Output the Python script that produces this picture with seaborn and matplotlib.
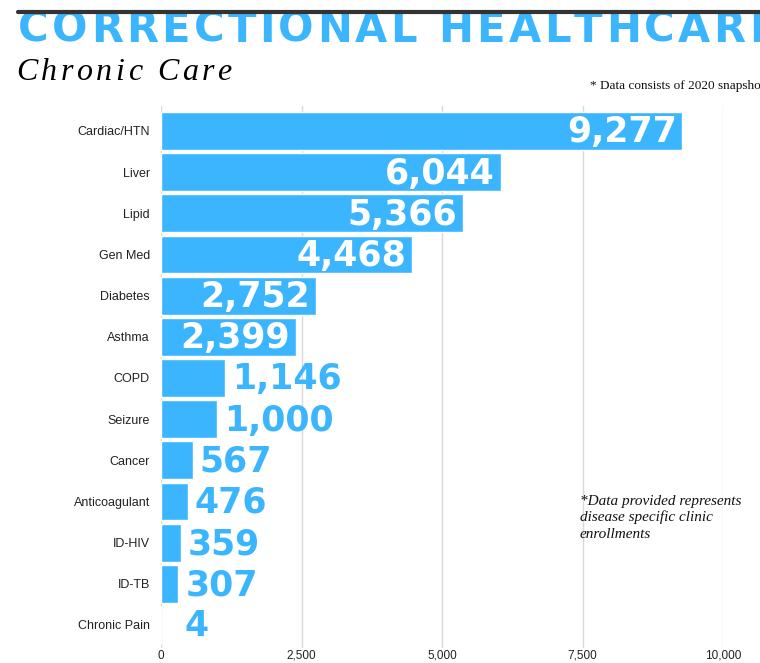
import matplotlib
matplotlib.use("Agg")
import matplotlib.pyplot as plt
import seaborn as sns
import pandas as pd
from matplotlib.lines import Line2D
from matplotlib.patches import Rectangle

categories = ["Cardiac/HTN", "Liver", "Lipid", "Gen Med", "Diabetes", "Asthma", "COPD",
              "Seizure", "Cancer", "Anticoagulant", "ID-HIV", "ID-TB", "Chronic Pain"]
values = [9277, 6044, 5366, 4468, 2752, 2399, 1146, 1000, 567, 476, 359, 307, 4]
xticks = [0, 2500, 5000, 7500, 10000]
xtick_labels = ["0", "2,500", "5,000", "7,500", "10,000"]

BLUE = "#3bb6fe"
W, H = 760, 663

sns.set_style("white")
plt.rcParams['font.family'] = ['Liberation Sans', 'DejaVu Sans']

fig = plt.figure(figsize=(W / 100, H / 100), dpi=100)
ax_l, ax_r = 161 / W, 723 / W
ax_top_px, ax_bot_px = 106.3, 647.6
ax = fig.add_axes([ax_l, 1 - ax_bot_px / H, ax_r - ax_l, (ax_bot_px - ax_top_px) / H])

df = pd.DataFrame({"category": categories, "value": values})
sns.barplot(data=df, x="value", y="category", orient="h", color=BLUE, saturation=1,
            width=0.92, ax=ax, zorder=2)

ax.set_xlim(0, 10000)
ax.set_ylim(12.55, -0.6)
ax.set_xticks(xticks)
ax.set_xticklabels(xtick_labels, fontsize=8.5, color="#222222")
ax.tick_params(axis="y", labelsize=9, colors="#222222", length=0, pad=8)
ax.tick_params(axis="x", length=0, pad=1.5)
ax.set_xlabel("")
ax.set_ylabel("")
for s in ax.spines.values():
    s.set_visible(False)
ax.xaxis.grid(True, color="#d9d9d9", lw=1, zorder=0)
ax.set_axisbelow(True)

for i, v in enumerate(values):
    label = f"{v:,}"
    if v >= 2000:
        ax.annotate(label, (v, i), xytext=(-4, -1), textcoords="offset points",
                    ha="right", va="center", color="white", fontsize=25,
                    fontweight="bold", family="DejaVu Sans", zorder=3)
    else:
        ax.annotate(label, (max(v, 300), i), xytext=(5, -1), textcoords="offset points",
                    ha="left", va="center", color=BLUE, fontsize=25,
                    fontweight="bold", family="DejaVu Sans", zorder=3)

renderer = fig.canvas.get_renderer()


def spaced_text(x_px, y_px, s, spacing_px, **kw):
    """Place text char by char with extra tracking (pixel coords from top-left)."""
    x = x_px
    for ch in s:
        t = fig.text(x / W, 1 - y_px / H, ch, va="baseline", ha="left", **kw)
        if ch == " ":
            probe = fig.text(0, 0, "a a", **kw)
            probe2 = fig.text(0, 0, "aa", **kw)
            w = probe.get_window_extent(renderer).width - probe2.get_window_extent(renderer).width
            probe.remove(); probe2.remove()
        else:
            w = t.get_window_extent(renderer).width
        x += w + spacing_px


spaced_text(18, 42, "CORRECTIONAL HEALTHCARE", 3.3, color=BLUE, fontsize=30,
            fontweight="bold", family="DejaVu Sans")
fig.add_artist(Rectangle((0, 1 - 11 / H), 1, 11 / H, transform=fig.transFigure,
                         facecolor="white", edgecolor="none", zorder=10))
fig.add_artist(Line2D([18 / W, 1], [1 - 12 / H] * 2, transform=fig.transFigure,
                      color="#333333", lw=3, zorder=11))

spaced_text(16, 80, "Chronic Care", 3.5, color="black", fontsize=23,
            style="italic", family="Liberation Serif")

fig.text(590 / W, 1 - 89 / H, "* Data consists of 2020 snapshot", fontsize=9.5,
         family="Liberation Serif", color="#111111", va="baseline", ha="left")

note_lines = ["*Data provided represents", "disease specific clinic", "enrollments"]
for k, line in enumerate(note_lines):
    fig.text(580 / W, 1 - (505 + 16.5 * k) / H, line, fontsize=11,
             family="Liberation Serif", style="italic", color="#111111",
             va="baseline", ha="left")

fig.savefig("out.png", dpi=100, facecolor="white")
